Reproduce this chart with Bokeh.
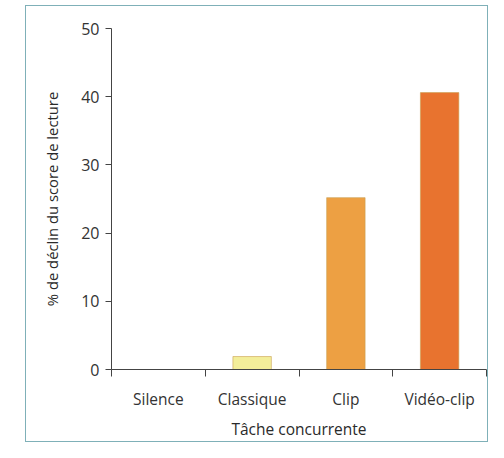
from bokeh.plotting import figure
from bokeh.models import Range1d, FixedTicker, ColumnDataSource
from bokeh.embed import file_html
from bokeh.resources import INLINE

categories = ["Silence", "Classique", "Clip", "Vidéo-clip"]
values = [0.0, 1.9, 25.2, 40.6]
colors = ["#f3ee9a", "#f3ee9a", "#eda043", "#e8732f"]
y_ticks = [0, 10, 20, 30, 40, 50]

xs = [i + 0.5 for i in range(len(categories))]
src = ColumnDataSource(dict(x=xs, top=values, color=colors, cat=categories))

p = figure(width=488, height=442, output_backend="svg", toolbar_location=None,
           x_range=Range1d(0, len(categories)), y_range=Range1d(0, 50),
           min_border_left=111, min_border_right=2, min_border_top=28, min_border_bottom=71)
p.outline_line_color = None
p.xgrid.grid_line_color = None
p.ygrid.grid_line_color = None
p.background_fill_color = "white"

p.vbar(x="x", top="top", width=0.41, bottom=0, fill_color="color",
       line_color="#c9a050", line_width=0.6, source=src)

font = "Open Sans"
p.yaxis.ticker = FixedTicker(ticks=y_ticks)
p.yaxis.axis_label = "% de déclin du score de lecture"
p.yaxis.axis_label_text_font = font
p.yaxis.axis_label_text_font_style = "normal"
p.yaxis.axis_label_text_font_size = "14.8px"
p.yaxis.axis_label_text_color = "#2a2a2a"
p.yaxis.axis_label_standoff = 16
p.yaxis.major_label_text_font = font
p.yaxis.major_label_text_font_size = "16px"
p.yaxis.major_label_text_color = "#333333"
p.yaxis.major_tick_out = 6
p.yaxis.major_tick_in = 0
p.yaxis.minor_tick_out = 0
p.yaxis.minor_tick_in = 0
p.yaxis.major_label_standoff = 6
p.yaxis.axis_line_color = "#444444"
p.yaxis.major_tick_line_color = "#444444"

p.xaxis.ticker = FixedTicker(ticks=xs, minor_ticks=list(range(len(categories) + 1)))
p.xaxis.major_label_overrides = {x: c for x, c in zip(xs, categories)}
p.xaxis.major_tick_out = 0
p.xaxis.major_tick_in = 0
p.xaxis.minor_tick_out = 7
p.xaxis.minor_tick_in = 0
p.xaxis.minor_tick_line_color = "#444444"
p.xaxis.axis_line_color = "#444444"
p.xaxis.major_label_standoff = 11
p.xaxis.major_label_text_font = font
p.xaxis.major_label_text_font_size = "15.5px"
p.xaxis.major_label_text_color = "#333333"
p.xaxis.axis_label = "Tâche concurrente"
p.xaxis.axis_label_text_font = font
p.xaxis.axis_label_text_font_style = "normal"
p.xaxis.axis_label_text_font_size = "15.5px"
p.xaxis.axis_label_text_color = "#2a2a2a"
p.xaxis.axis_label_standoff = 5

p.stylesheets = [
    ":host::after { content: ''; position: absolute; left: 25px; top: 5px; "
    "width: 461px; height: 435px; border: 1px solid #7fb0b8; pointer-events: none; }"
]

open("out.html", "w").write(file_html(p, INLINE))
